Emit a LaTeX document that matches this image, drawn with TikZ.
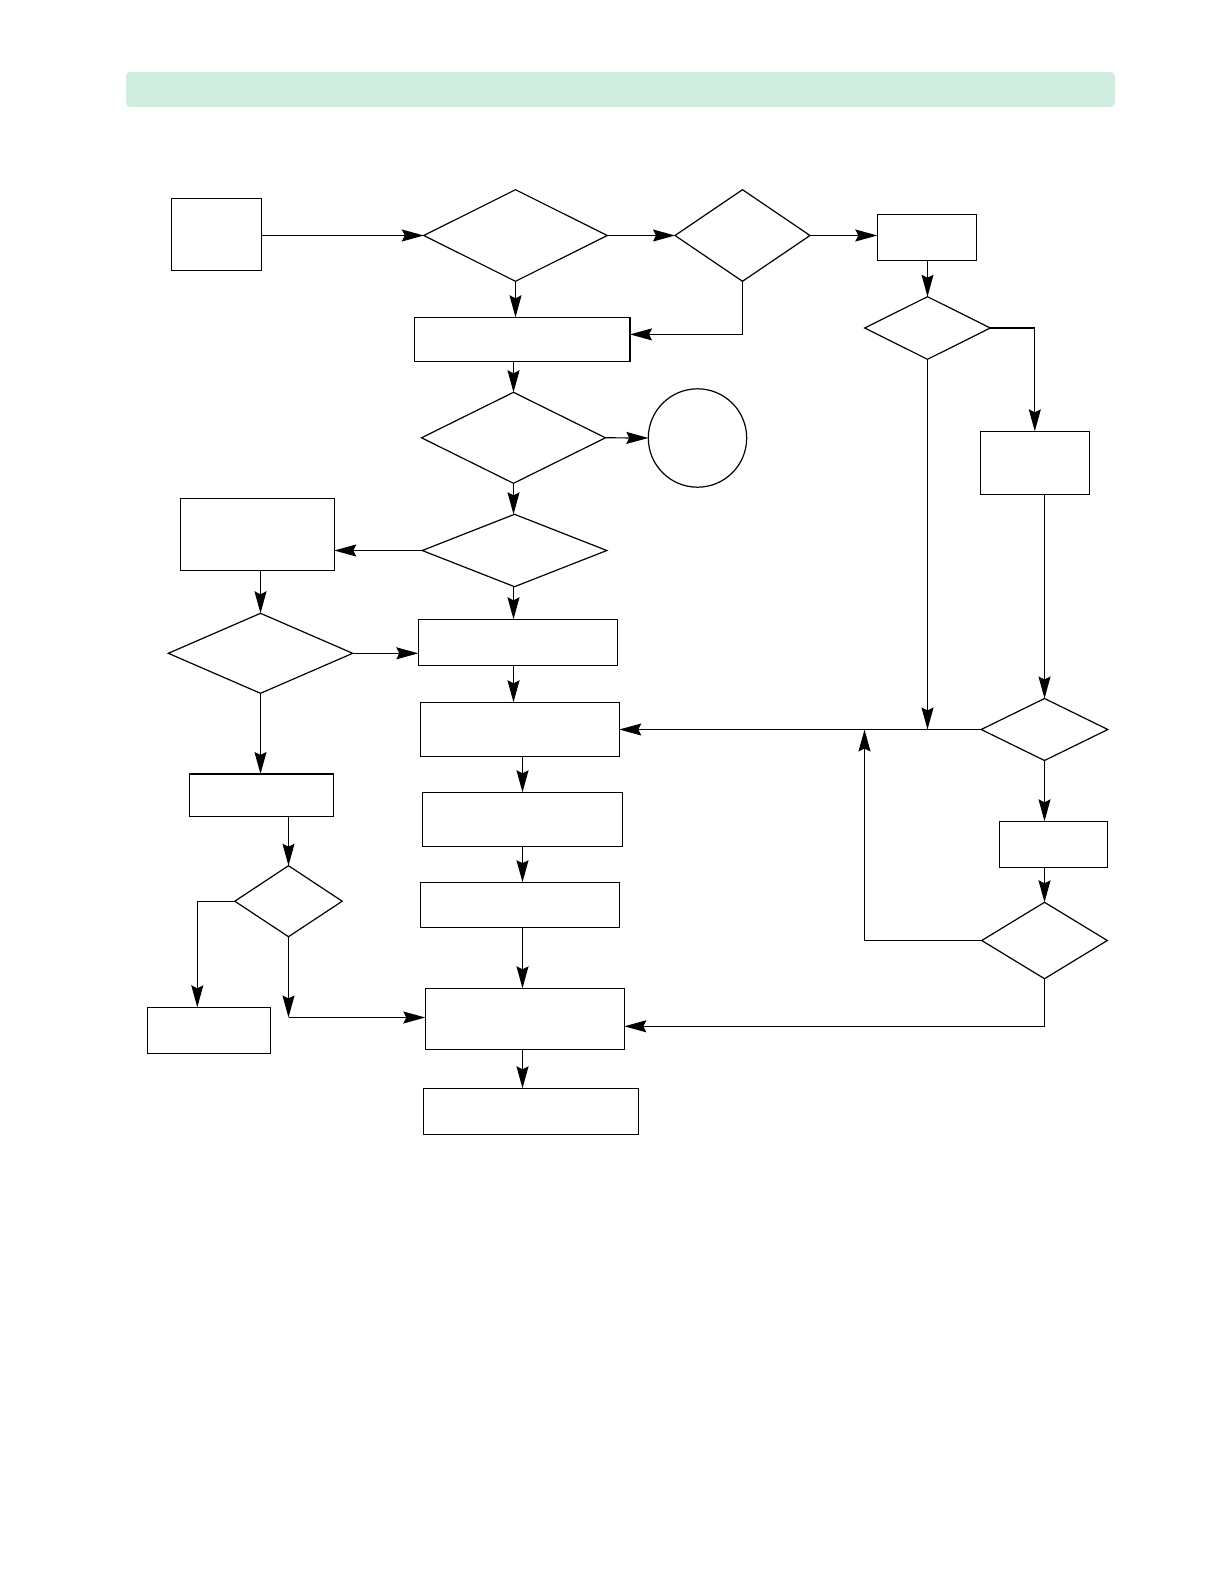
\documentclass[tikz,border=0pt]{standalone}
\usepackage{xcolor}
\usepackage{tikz}
\usetikzlibrary{arrows.meta,shapes.geometric,calc}
\definecolor{bannergreen}{RGB}{207,238,224}

\begin{document}
\begin{tikzpicture}[x=0.5pt,y=-0.5pt,line width=0.6pt,
   proc/.style={draw,line width=0.6pt,inner sep=0pt,outer sep=0pt},
   cond/.style={draw,diamond,line width=0.6pt,inner sep=0pt,outer sep=0pt},
   arr/.style={-{Stealth[length=11pt,width=6pt,inset=1.5pt]}}]
  \useasboundingbox (0,0) rectangle (1224,1584);
  \fill[bannergreen,rounded corners=2pt] (126,72) rectangle (1115,107);
  % top row
  \node[proc,minimum width=45.2pt,minimum height=36pt] (start) at (216.5,234.5) {};
  \node[cond,minimum width=91.7pt,minimum height=45.8pt] (d1) at (515.5,235.5) {};
  \node[cond,minimum width=67.5pt,minimum height=45.8pt] (d2) at (742.5,235.5) {};
  \node[proc,minimum width=49.7pt,minimum height=23.2pt] (r1) at (927,237.5) {};
  % middle column
  \node[proc,minimum width=107.8pt,minimum height=22.1pt] (b1) at (522.2,339.4) {};
  \node[cond,minimum width=92pt,minimum height=45.5pt] (d6) at (513.5,437.8) {};
  \node[circle,draw,line width=0.6pt,inner sep=0pt,outer sep=0pt,minimum size=49.2pt] (term) at (697.5,438) {};
  \node[cond,minimum width=92.3pt,minimum height=36.2pt] (d7) at (514.5,550.5) {};
  \node[proc,minimum width=99.5pt,minimum height=23pt] (c4) at (517.8,642.3) {};
  \node[proc,minimum width=99.3pt,minimum height=27pt] (c5) at (520,729.3) {};
  \node[proc,minimum width=100pt,minimum height=27pt] (c6) at (522.5,819.3) {};
  \node[proc,minimum width=99.3pt,minimum height=22.5pt] (c7) at (520,904.7) {};
  \node[proc,minimum width=99.5pt,minimum height=30.5pt] (c8) at (524.8,1018.8) {};
  \node[proc,minimum width=107.5pt,minimum height=23pt] (c9) at (530.8,1111.3) {};
  % left column
  \node[proc,minimum width=76.8pt,minimum height=36pt] (l1) at (257.5,534.3) {};
  \node[cond,minimum width=92.2pt,minimum height=40pt] (ld1) at (260.5,653.3) {};
  \node[proc,minimum width=72pt,minimum height=21.2pt] (l2) at (261.3,795.2) {};
  \node[cond,minimum width=53.7pt,minimum height=35.5pt] (ld2) at (288.5,901.2) {};
  \node[proc,minimum width=61.5pt,minimum height=23pt] (l3) at (208.8,1030.3) {};
  % right column
  \node[cond,minimum width=62.8pt,minimum height=31.3pt] (d3) at (927.5,328) {};
  \node[proc,minimum width=54.5pt,minimum height=31.5pt] (r2) at (1034.8,462.8) {};
  \node[cond,minimum width=63.3pt,minimum height=31pt] (d4) at (1044.5,729.5) {};
  \node[proc,minimum width=54.2pt,minimum height=23pt] (r3) at (1053.5,844.3) {};
  \node[cond,minimum width=62.8pt,minimum height=38.2pt] (d5) at (1044.5,940.5) {};
  \coordinate (join) at (d3.south |- d4.west);
  \coordinate (back) at (864.5,729.5);
  \coordinate (lcorner) at (288.5,1017.5);

  \draw[arr] (start.east |- d1.west) -- (d1.west);
  \draw[arr] (d1.east) -- (d2.west);
  \draw[arr] (d2.east) -- (d2.east -| r1.west);
  \draw[arr] (d1.south) -- (d1.south |- b1.north);
  \draw[arr] (d2.south) |- ([yshift=2.5pt]b1.east);
  \draw[arr] (b1.south -| d6.north) -- (d6.north);
  \draw[arr] (d6.east) -- (term.west);
  \draw[arr] (d6.south) -- (d6.south |- d7.north);
  \draw[arr] (d7.west) -- (d7.west -| l1.east);
  \draw[arr] (d7.south -| d6.south) -- (d6.south |- c4.north);
  \draw[arr] (c4.south -| d6.south) -- (d6.south |- c5.north);
  \draw[arr] (c5.south -| c6.north) -- (c6.north);
  \draw[arr] (c6.south) -- (c6.south |- c7.north);
  \draw[arr] (c7.south -| c6.north) -- (c6.north |- c8.north);
  \draw[arr] (c8.south -| c6.north) -- (c6.north |- c9.north);
  % left branch
  \draw[arr] (l1.south -| ld1.north) -- (ld1.north);
  \draw[arr] (ld1.east) -- (ld1.east -| c4.west);
  \draw[arr] (ld1.south) -- (ld1.south |- l2.north);
  \draw[arr] (l2.south -| ld2.north) -- (ld2.north);
  \draw[arr] (ld2.west) -| ([xshift=-5.75pt]l3.north);
  \draw[arr] (ld2.south) -- (lcorner);
  \draw[arr] (lcorner) -- (lcorner -| c8.west);
  % right branch
  \draw[arr] (r1.south -| d3.north) -- (d3.north);
  \draw[arr] (d3.east) -| (r2.north);
  \draw[arr] (d3.south) -- (join);
  \draw[arr] (d4.west) -- (c5.east |- d4.west);
  \draw[arr] (r2.south -| d4.north) -- (d4.north);
  \draw[arr] (d4.south) -- (d4.south |- r3.north);
  \draw[arr] (r3.south -| d5.north) -- (d5.north);
  \draw[arr] (d5.west) -| (back);
  \draw[arr] (d5.south) |- ([yshift=-3.75pt]c8.east);
\end{tikzpicture}
\end{document}
